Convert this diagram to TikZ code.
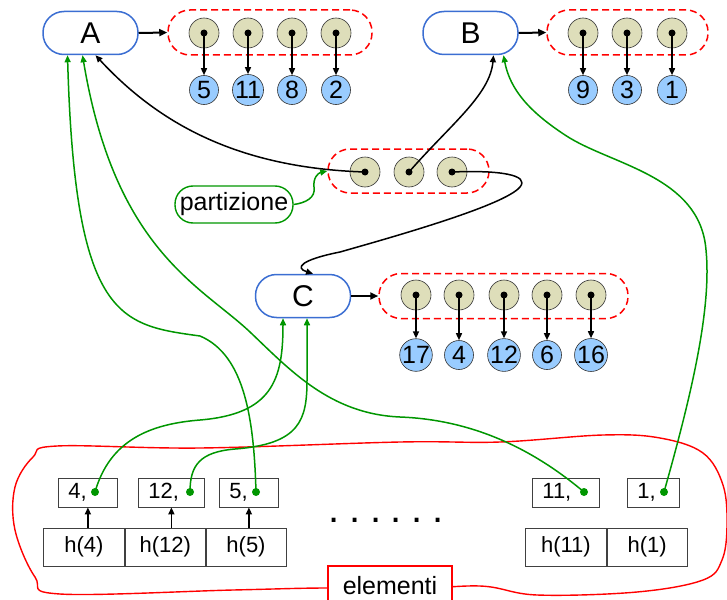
\documentclass[tikz,border=0pt]{standalone}
\usepackage{fontspec}
\setmainfont{Liberation Sans}
\usetikzlibrary{arrows.meta,calc}
\definecolor{nodeblue}{RGB}{59,110,210}
\definecolor{beige}{RGB}{222,222,186}
\definecolor{lblue}{RGB}{153,204,255}
\definecolor{gr}{RGB}{0,150,0}
\begin{document}
\begin{tikzpicture}[x=1pt,y=-1pt,
  setnode/.style={draw=nodeblue, line width=1.5pt, rounded corners=21pt, minimum width=95pt, minimum height=43pt, inner sep=0pt, fill=white, font=\fontsize{30}{36}\selectfont},
  grp/.style={draw=red, dash pattern=on 7pt off 4pt, line width=1.5pt, rounded corners=22pt, minimum height=45pt, inner sep=0pt},
  elem/.style={circle, draw=black!80, line width=0.6pt, fill=beige, minimum size=30pt, inner sep=0pt},
  val/.style={circle, draw=black!80, line width=0.6pt, fill=lblue, minimum size=29pt, inner sep=0pt, font=\fontsize{25}{28}\selectfont},
  ptr/.style={line width=1.5pt, -{Triangle[length=7pt,width=6pt]}},
  bigptr/.style={line width=2pt, -{Triangle[length=8pt,width=7pt]}},
  gline/.style={draw=gr, line width=1.5pt, -{Triangle[length=7pt,width=6pt]}},
  gdot/.style={circle, fill=gr, minimum size=8pt, inner sep=0pt},
  cell/.style={draw=black!75, line width=0.8pt, minimum height=29pt, inner xsep=10pt, inner ysep=0pt, align=left, anchor=west, font=\fontsize{22}{26}\selectfont},
  hcell/.style={draw=black!75, line width=0.8pt, minimum height=38pt, inner sep=0pt, anchor=west, font=\fontsize{22}{26}\selectfont},
  txt/.style={font=\fontsize{25}{30}\selectfont}
]
\useasboundingbox (0,0) rectangle (727,599);

% red blob
\draw[red, line width=1.4pt] plot[smooth cycle, tension=0.6] coordinates {
  (57,446) (200,448) (400,442) (500,442) (603,435) (660,438) (703,453) (723,485)
  (727,525) (722,560) (703,580) (637,592) (537,595) (480,586) (400,590) (328,588)
  (233,590) (60,594) (35,577) (15,530) (15,487) (33,457)};
\node[draw=red, line width=1.2pt, fill=white, minimum width=124pt, minimum height=40pt, inner sep=0pt, txt] (el) at (390,586) {elementi};

% set A
\node[setnode] (A) at (90.5,33) {A};
\node[grp, minimum width=204pt] (ga) at (270,32.5) {};
\foreach \i/\x/\v in {1/204/5, 2/248/11, 3/292/8, 4/336/2}{
  \node[elem] (a\i) at (\x,33) {};
  \fill (a\i) circle (3.5);
  \node[val] (va\i) at (\x,90) {\v};
  \draw[ptr] (a\i.center) -- (va\i.north);
}
\draw[bigptr] (A.east) -- (ga.west);

% set B
\node[setnode] (B) at (470.5,33) {B};
\node[grp, minimum width=161pt] (gb) at (627.5,32.5) {};
\foreach \i/\x/\v in {1/583/9, 2/627/3, 3/672/1}{
  \node[elem] (b\i) at (\x,33) {};
  \fill (b\i) circle (3.5);
  \node[val] (vb\i) at (\x,90) {\v};
  \draw[ptr] (b\i.center) -- (vb\i.north);
}
\draw[bigptr] (B.east) -- (gb.west);

% set C
\node[setnode] (C) at (303,296) {C};
\node[grp, minimum width=249pt] (gc) at (503.5,296) {};
\foreach \i/\x/\v in {1/416/17, 2/459/4, 3/504/12, 4/547/6, 5/591/16}{
  \node[elem] (c\i) at (\x,295) {};
  \fill (c\i) circle (3.5);
  \node[val] (vc\i) at (\x,355) {\v};
  \draw[ptr] (c\i.center) -- (vc\i.north);
}
\draw[bigptr] (C.east) -- (gc.west);

% partition
\node[grp, minimum width=161pt, minimum height=44pt] (gp) at (408.5,171) {};
\foreach \i/\x in {1/365, 2/409, 3/452}{
  \node[elem] (p\i) at (\x,172) {};
  \fill (p\i) circle (3.5);
}
\node[draw=gr, line width=1.4pt, rounded corners=18pt, minimum width=118pt, minimum height=37pt, inner sep=0pt, txt] (part) at (234,204.5) {partizione};
\draw[gline] (part.east) .. controls (305,203) and (316,198) .. (314,187) .. controls (313,178) and (318,173) .. (gp.west);

\draw[ptr] (p1.center) .. controls (240,168) and (160,125) .. ([xshift=5pt]A.south);
\draw[ptr] (p2.center) .. controls (450,125) and (490,95) .. ([xshift=23pt]B.south);
\draw[ptr] (p3.center) .. controls (500,170) and (530,175) .. (520,187) .. controls (505,205) and (400,235) .. (340,252) .. controls (300,260) and (295,268) .. ([xshift=10pt]C.north);

% bottom cells
\node[cell, text width=39pt] (k4) at (58,492.5) {4,};
\node[cell, text width=46pt] (k12) at (138,492.5) {12,};
\node[cell, text width=39pt] (k5) at (219,492.5) {5,};
\node[cell, text width=47pt] (k11) at (532,492.5) {11,};
\node[cell, text width=32pt] (k1) at (627,492.5) {1,};

\node[hcell, minimum width=81pt] (h4) at (43,547) {h(4)};
\node[hcell, minimum width=80pt] (h12) at (h4.east) {h(12)};
\node[hcell, minimum width=80pt] (h5) at (h12.east) {h(5)};
\node[hcell, minimum width=81pt] (h11) at (525,547) {h(11)};
\node[hcell, minimum width=80pt] (h1) at (h11.east) {h(1)};

\draw[ptr] (k4.south |- h4.north) -- (k4.south);
\draw[ptr] (k12.south |- h12.north) -- (k12.south);
\draw[ptr] (k5.south |- h5.north) -- (k5.south);

\node[anchor=base, font=\fontsize{40}{44}\selectfont] (dots) at (386,522) {.\hspace{9.7pt}.\hspace{9.7pt}.\hspace{9.7pt}.\hspace{9.7pt}.\hspace{9.7pt}.};

\node[gdot] (d4) at (95,492) {};
\node[gdot] (d12) at (190,492) {};
\node[gdot] (d5) at (256,492) {};
\node[gdot] (d11) at (584,492) {};
\node[gdot] (d1) at (664,492) {};

\draw[gline] (d4.center) .. controls (110,440) and (150,424) .. (200,420) .. controls (272,414) and (283,380) .. ([xshift=-20pt]C.south);
\draw[gline] (d12.center) .. controls (190,465) and (200,452) .. (235,449) .. controls (300,444) and (307,420) .. (307,380) -- ([xshift=4pt]C.south);
\draw[gline] (d5.center) .. controls (254,420) and (245,355) .. (200,336) .. controls (120,325) and (75,320) .. ([xshift=-23pt]A.south);
\draw[gline] (d11.center) .. controls (540,455) and (480,420) .. (400,417) .. controls (330,414) and (290,370) .. (250,332) .. controls (200,285) and (115,250) .. ([xshift=-8pt]A.south);
\draw[gline] (d1.center) .. controls (690,400) and (712,310) .. (706,250) .. controls (700,175) and (610,165) .. (565,135) .. controls (530,112) and (510,90) .. ([xshift=33pt]B.south);
\end{tikzpicture}
\end{document}
